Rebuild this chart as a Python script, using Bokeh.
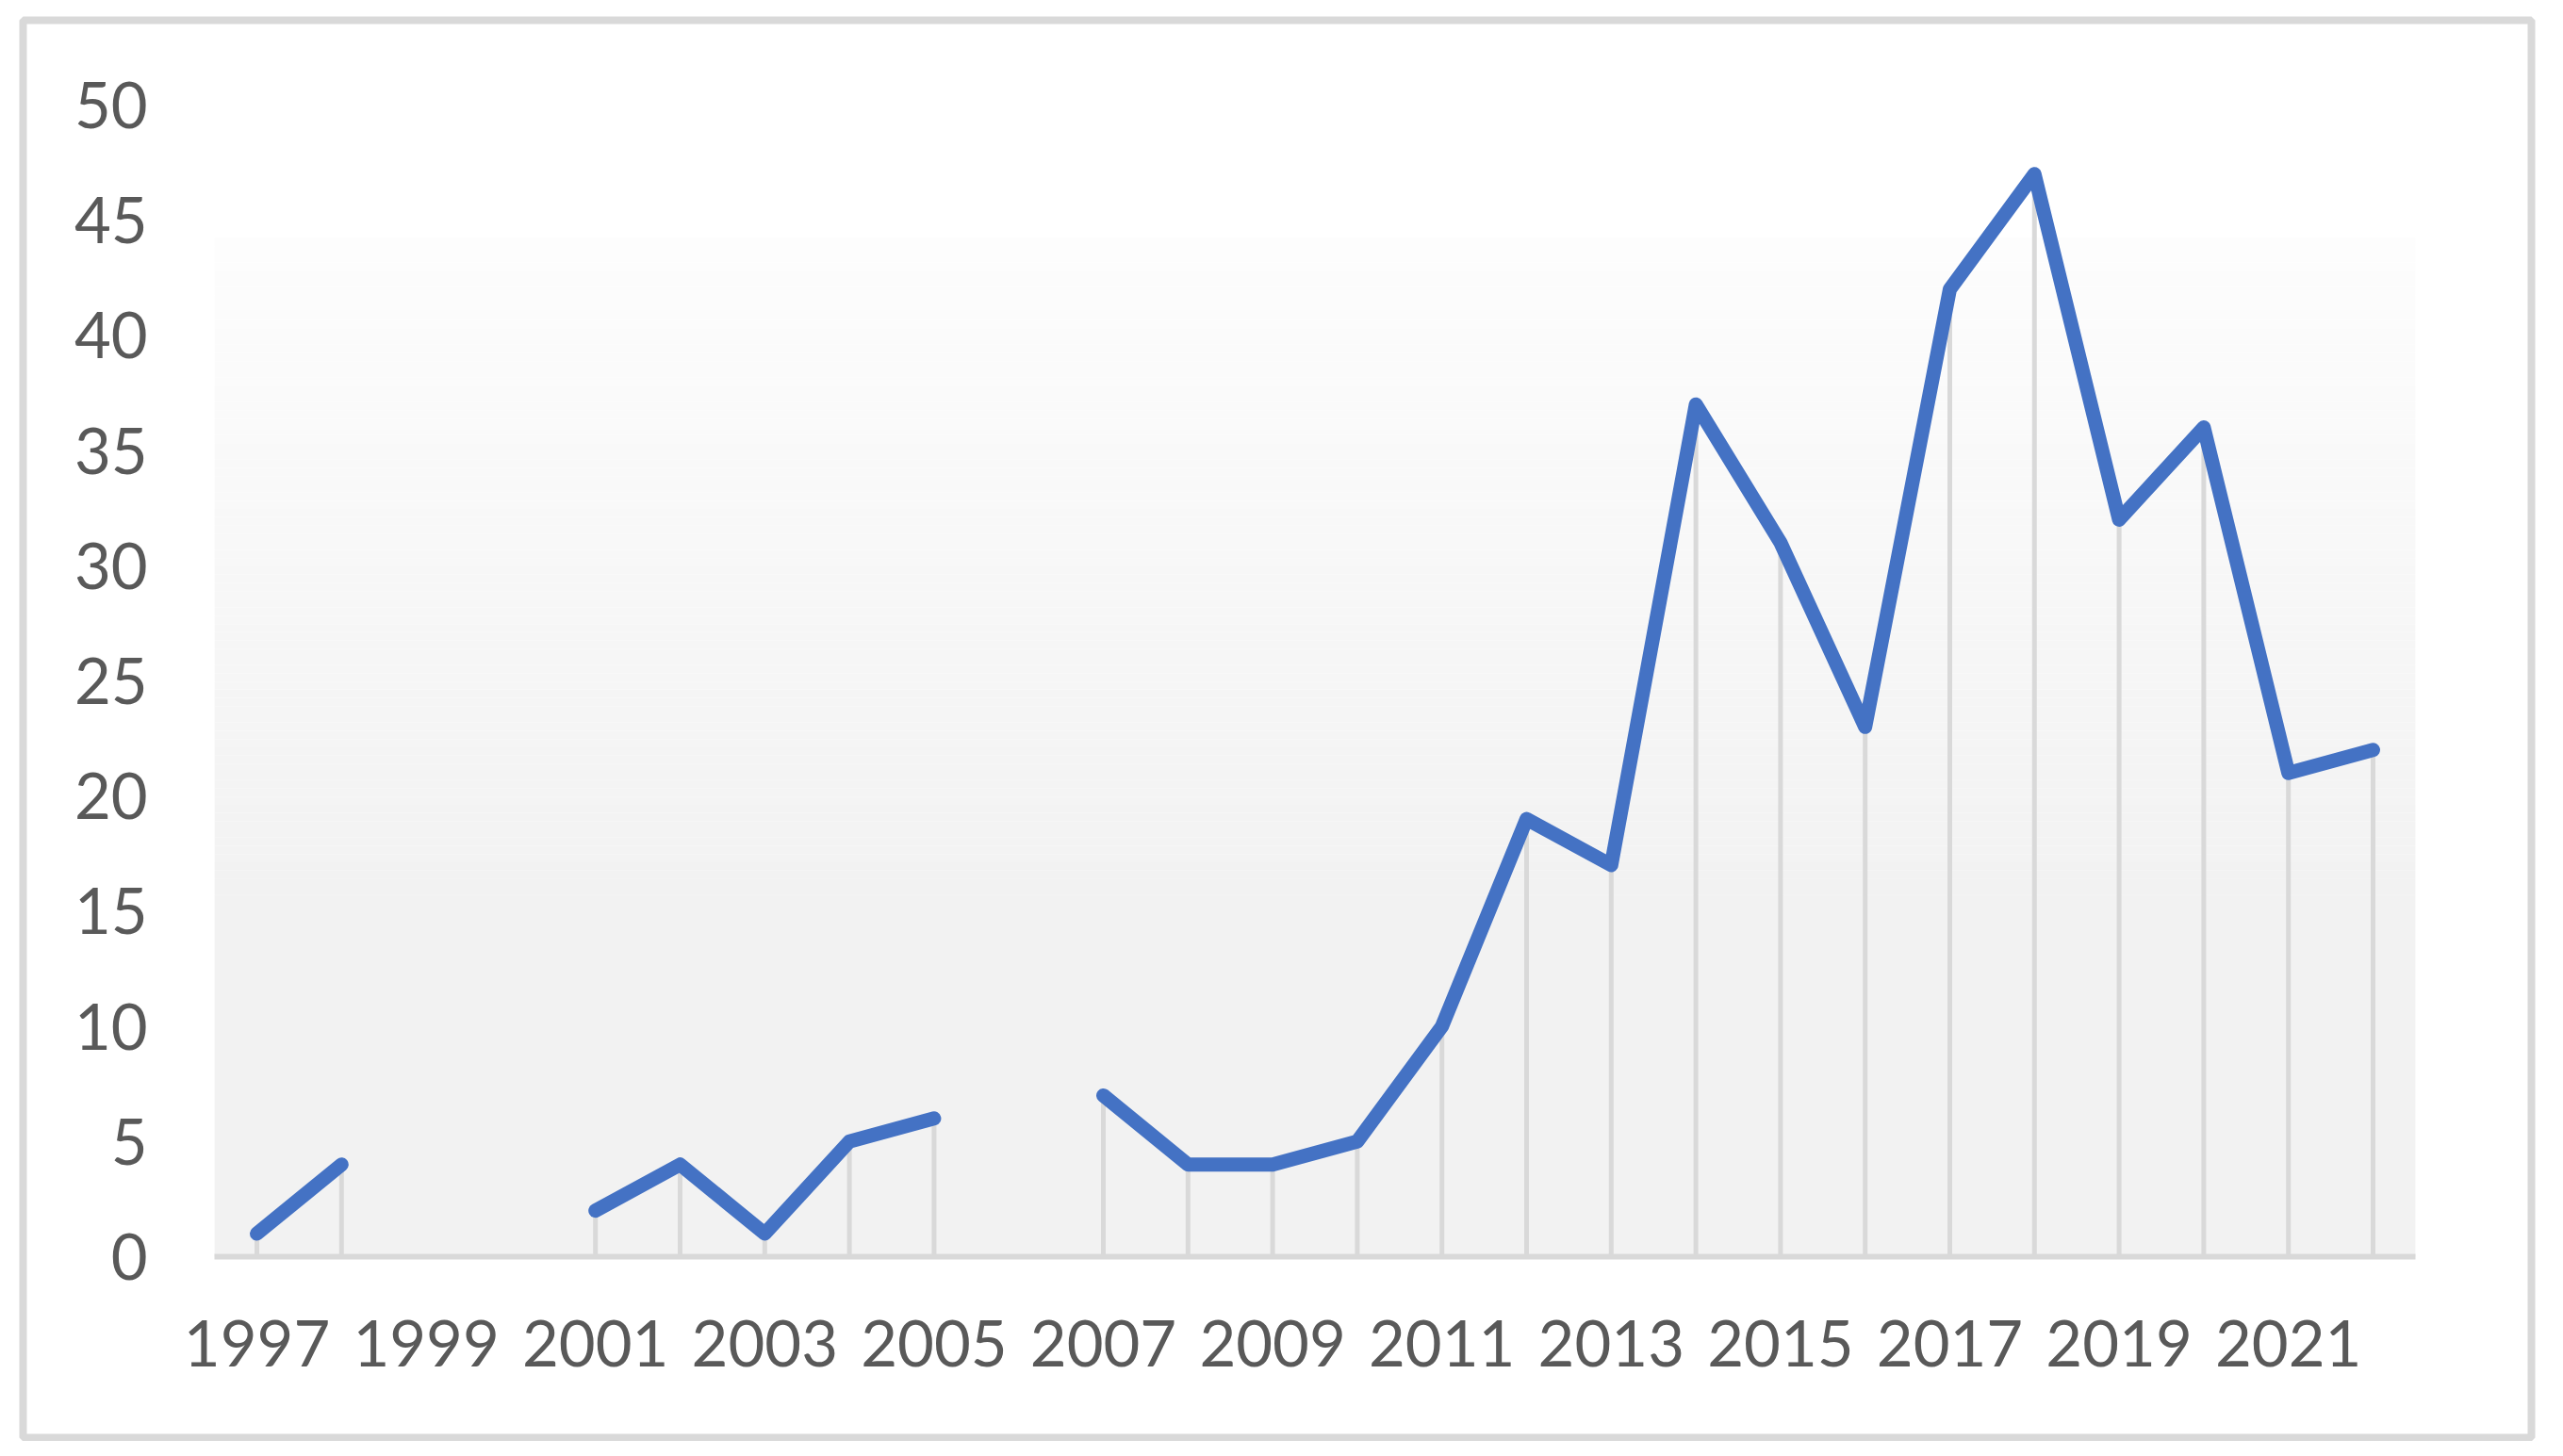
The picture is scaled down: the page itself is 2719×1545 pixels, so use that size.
from bokeh.plotting import figure
from bokeh.models import Range1d, LinearAxis, FixedTicker, BasicTickFormatter
from bokeh.embed import file_html
from bokeh.resources import INLINE

# ---- data ----
years = list(range(1997, 2023))
counts = [1, 4, None, None, 2, 4, 1, 5, 6, None, 7, 4, 4, 5, 10,
          19, 17, 37, 31, 23, 42, 47, 32, 36, 21, 22]
x_tick_years = [1997, 1999, 2001, 2003, 2005, 2007, 2009, 2011, 2013, 2015, 2017, 2019, 2021]
y_ticks = [0, 5, 10, 15, 20, 25, 30, 35, 40, 45, 50]

# ---- styling constants ----
LINE_COLOR = "#4472C4"
DROP_COLOR = "#d9d9d9"
TEXT_COLOR = "#595959"
FONT = "Lato"
FONT_SIZE = "67px"

x_lo, x_hi = years[0] - 0.5, years[-1] + 0.5

p = figure(width=2703, height=1529,
           x_range=Range1d(1994.238, 2023.871),
           y_range=Range1d(-7.856, 53.68),
           output_backend="svg", toolbar_location=None,
           x_axis_location=None, y_axis_location=None,
           min_border_left=24, min_border_right=18,
           min_border_top=21, min_border_bottom=4)
p.background_fill_color = "white"
p.border_fill_color = "white"
p.outline_line_color = "#d9d9d9"
p.outline_line_width = 8
p.xgrid.visible = False
p.ygrid.visible = False

# ---- plot-area gradient background (white -> light grey) ----
area_top = 44.23
flat_below = 15.7
n = 80
bottoms, tops, colors = [0.0], [flat_below], ["#f2f2f2"]
for i in range(n):
    b = flat_below + (area_top - flat_below) * i / n
    t = flat_below + (area_top - flat_below) * (i + 1) / n
    frac = (i + 0.5) / n
    g = int(round(242 + (253 - 242) * frac))
    bottoms.append(b)
    tops.append(t)
    colors.append("#%02x%02x%02x" % (g, g, g))
p.quad(left=x_lo, right=x_hi, bottom=bottoms, top=tops,
       fill_color=colors, line_color=None)

# ---- drop lines ----
dx = [y for y, c in zip(years, counts) if c is not None]
dy = [c for c in counts if c is not None]
p.segment(x0=dx, y0=[0] * len(dx), x1=dx, y1=dy, line_color=DROP_COLOR, line_width=5)

# ---- main line (gaps for missing years) ----
line_y = [float("nan") if c is None else c for c in counts]
p.line(years, line_y, line_color=LINE_COLOR, line_width=15,
       line_join="round", line_cap="round")

# ---- axes ----
xaxis = LinearAxis(fixed_location=0, bounds=(x_lo, x_hi),
                   ticker=FixedTicker(ticks=x_tick_years),
                   formatter=BasicTickFormatter(use_scientific=False))
xaxis.axis_line_color = DROP_COLOR
xaxis.axis_line_width = 6
xaxis.major_tick_line_color = None
xaxis.minor_tick_line_color = None
xaxis.major_tick_out = 0
xaxis.major_tick_in = 0
xaxis.major_label_standoff = 68
xaxis.major_label_text_font = FONT
xaxis.major_label_text_font_size = FONT_SIZE
xaxis.major_label_text_color = TEXT_COLOR
p.add_layout(xaxis, "below")

yaxis = LinearAxis(fixed_location=x_lo,
                   ticker=FixedTicker(ticks=y_ticks),
                   formatter=BasicTickFormatter(use_scientific=False))
yaxis.axis_line_color = None
yaxis.major_tick_line_color = None
yaxis.minor_tick_line_color = None
yaxis.major_tick_out = 0
yaxis.major_tick_in = 0
yaxis.major_label_standoff = 71
yaxis.major_label_text_font = FONT
yaxis.major_label_text_font_size = FONT_SIZE
yaxis.major_label_text_color = TEXT_COLOR
p.add_layout(yaxis, "left")

open("out.html", "w").write(file_html(p, INLINE))
